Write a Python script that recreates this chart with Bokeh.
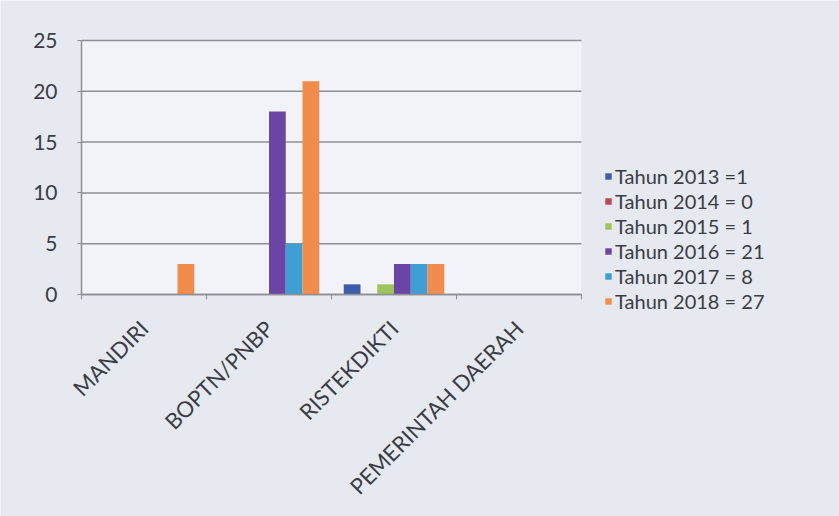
from bokeh.plotting import figure
from bokeh.models import (ColumnDataSource, Legend, LegendItem, FixedTicker,
                          Range1d, BoxAnnotation)
from bokeh.transform import dodge
from bokeh.embed import file_html
from bokeh.resources import INLINE
import math

categories = ["MANDIRI", "BOPTN/PNBP", "RISTEKDIKTI", "PEMERINTAH DAERAH"]
series_labels = ["Tahun 2013 =1", "Tahun 2014 = 0", "Tahun 2015 = 1",
                 "Tahun 2016 = 21", "Tahun 2017 = 8", "Tahun 2018 = 27"]
y2013 = [0, 0, 1, 0]
y2014 = [0, 0, 0, 0]
y2015 = [0, 0, 1, 0]
y2016 = [0, 18, 3, 0]
y2017 = [0, 5, 3, 0]
y2018 = [3, 21, 3, 0]
y_ticks = [0, 5, 10, 15, 20, 25]

colors = ["#3E5DA8", "#B5485A", "#9DC35A", "#6A45A6", "#3F9ED3", "#F28C4C"]
keys = ["y2013", "y2014", "y2015", "y2016", "y2017", "y2018"]
BG = "#e7e9f0"
TXT = "#3a3d45"
GRID = "#8d8f94"

W, H = 839, 516
LEFT, TOP, BOTTOM_Y0 = 81, 40, 294      # pixel layout of the plot area
CAT_PX = 125                            # pixels per category
n = len(categories)
ymax = y_ticks[-1]
px_per_unit = (BOTTOM_Y0 - TOP) / ymax
y_start = -(H - BOTTOM_Y0) / px_per_unit
y_end = ymax + TOP / px_per_unit
x_start = -LEFT / CAT_PX
x_end = (W - LEFT) / CAT_PX

centers = [i + 0.5 for i in range(n)]
src = ColumnDataSource(dict(xc=centers, y2013=y2013, y2014=y2014, y2015=y2015,
                            y2016=y2016, y2017=y2017, y2018=y2018))

p = figure(x_range=Range1d(x_start, x_end), y_range=Range1d(y_start, y_end),
           width=W, height=H, output_backend="svg", toolbar_location=None,
           min_border=0)
p.border_fill_color = BG
p.background_fill_color = BG
p.outline_line_color = None

# plot area background
p.add_layout(BoxAnnotation(left=0, right=n, bottom=0, top=ymax,
                           fill_color="#f1f3f8", fill_alpha=1, line_color=None,
                           level="underlay"))
p.grid.grid_line_color = None
# horizontal gridlines limited to the plot area
p.segment(x0=[0] * len(y_ticks), x1=[n] * len(y_ticks), y0=y_ticks, y1=y_ticks,
          line_color=GRID, line_width=1.5)

bw = 0.134
renderers = []
for i, k in enumerate(keys):
    off = (i - 2.5) * bw
    r = p.vbar(x=dodge("xc", off), top=k, width=bw,
               source=src, fill_color=colors[i], line_color=None)
    renderers.append(r)

# y axis at x = 0
ya = p.yaxis[0]
ya.fixed_location = 0
ya.ticker = FixedTicker(ticks=y_ticks)
ya.bounds = (0, ymax)
ya.axis_line_color = GRID
ya.axis_line_width = 1.5
ya.major_tick_out = 4
ya.major_tick_in = 0
ya.major_tick_line_color = GRID
ya.minor_tick_line_color = None
ya.major_label_standoff = 20
ya.major_label_text_font = "Lato"
ya.major_label_text_font_size = "21px"
ya.major_label_text_color = TXT

# x axis at y = 0
xa = p.xaxis[0]
xa.fixed_location = 0
xa.bounds = (0, n)
xa.ticker = FixedTicker(ticks=centers, minor_ticks=list(range(n + 1)))
xa.major_label_overrides = {c: lab for c, lab in zip(centers, categories)}
xa.axis_line_color = GRID
xa.axis_line_width = 1.5
xa.major_tick_line_color = None
xa.minor_tick_line_color = GRID
xa.minor_tick_out = 5
xa.minor_tick_in = 0
xa.major_label_orientation = math.pi / 4
xa.major_label_standoff = 24
xa.major_label_text_font = "Lato"
xa.major_label_text_font_size = "22px"
xa.major_label_text_color = TXT

legend = Legend(items=[LegendItem(label=series_labels[i], renderers=[renderers[i]])
                       for i in range(6)],
                location=(604, 203))
legend.background_fill_alpha = 0
legend.border_line_color = None
legend.padding = 0
legend.margin = 0
legend.glyph_width = 8
legend.glyph_height = 8
legend.label_height = 20
legend.spacing = 1
legend.label_standoff = 3
legend.label_text_font = "Lato"
legend.label_text_font_size = "20px"
legend.label_text_color = TXT
p.add_layout(legend, "center")

open("out.html", "w").write(file_html(p, INLINE))
